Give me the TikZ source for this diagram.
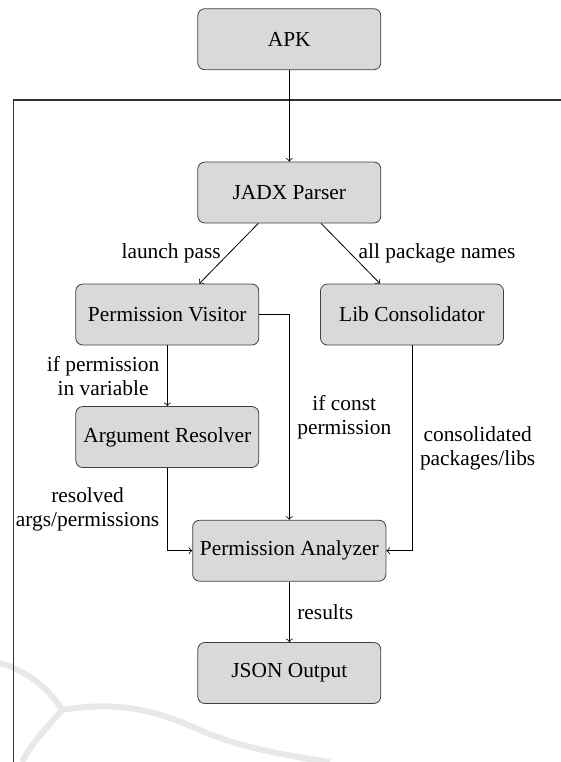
\documentclass[tikz,border=0pt]{standalone}
\usepackage{fontspec}
\setmainfont{Liberation Serif}

\begin{document}
\begin{tikzpicture}[x=0.5pt,y=-0.5pt]
		\tikzset{block/.style = {shape=rectangle, draw=black!75, fill=black!15, rounded corners=3.5pt, minimum width=91.5pt, minimum height=30.5pt, inner sep=3.6pt, font=\fontsize{10.7}{12.5}\selectfont}}
		\tikzset{lbl/.style = {align=center, inner sep=3.8pt, font=\fontsize{10.7}{12}\selectfont}}

		\useasboundingbox (0,0) rectangle (561,762);

		%watermark
		\draw[black!9, line width=3pt] (0,663) .. controls (30,672) and (50,690) .. (62,710);
		\draw[black!9, line width=3pt] (62,710) .. controls (45,730) and (30,745) .. (22,762);
		\draw[black!9, line width=3pt] (62,710) .. controls (120,700) and (160,712) .. (200,730) .. controls (240,748) and (290,756) .. (330,762);

		%frame
		\draw[black!80, line width=0.6pt] (13.3,762) -- (13.3,100) -- (561,100);

		\node[block] (APK) at (289.3,39.2) {APK};
		\node[block] (JADX) at (289.3,192.5) {JADX Parser};
		\node[block] (PV) at (167.3,314.5) {Permission Visitor};
		\node[block] (LC) at (412,314.5) {Lib Consolidator};
		\node[block] (AR) at (167.3,437) {Argument Resolver};
		\node[block] (PA) at (289.3,550.7) {Permission Analyzer};
		\node[block] (JSON) at (289.3,673) {JSON Output};

		%arrows
		\draw[->] (APK) -- (JADX);
		\draw[->] ([xshift=-15.5pt]JADX.south) -- node[lbl, midway, left] {launch pass} ([xshift=16pt]PV.north);
		\draw[->] ([xshift=15.9pt]JADX.south) -- node[lbl, midway, right] {all package names} ([xshift=-16pt]LC.north);
		\draw[->] (PV) -- node[lbl, midway, left] {if permission\\in variable} (AR);
		\draw[->] (PV.east) -| node[lbl, pos=0.75, right] {if const\\permission} (PA.north);
		\draw[->] (AR.south) |- node[lbl, pos=0.25, left] {resolved\\args/permissions} (PA.west);
		\draw[->] (LC.south) |- node[lbl, pos=0.25, right] {consolidated\\packages/libs} (PA.east);
		\draw[->] (PA) -- node[lbl, midway, right] {results} (JSON);

	\end{tikzpicture}
\end{document}
